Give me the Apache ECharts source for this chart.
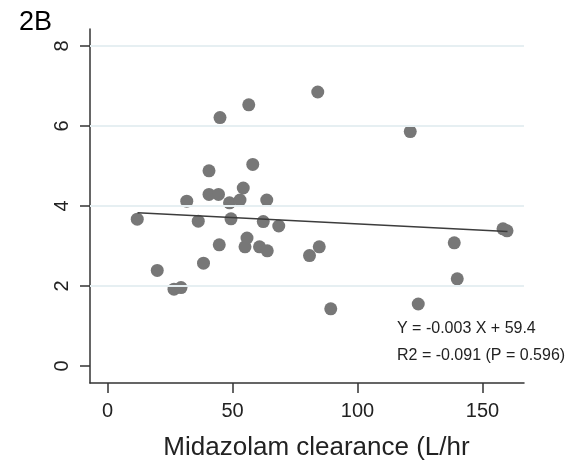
<!DOCTYPE html>
<html>
<head>
<meta charset="utf-8">
<script src="https://cdn.jsdelivr.net/npm/echarts@6/dist/echarts.min.js"></script>
<style>
  html, body { margin: 0; padding: 0; background: #fff; }
  #chart { width: 567px; height: 461px; }
</style>
</head>
<body>
<div id="chart"></div>
<script>
// midazolam clearance (L/hr) vs y value, one dot per subject
var clearance = [11.9, 19.9, 26.6, 29.4, 31.7, 36.3, 38.4, 40.6, 40.6, 44.4, 44.7, 45.0, 48.8, 49.4, 53.0, 54.3, 55.0, 55.8,
  56.5, 58.1, 60.8, 62.3, 63.9, 63.7, 68.5, 80.8, 84.7, 84.1, 89.3, 121.1, 124.3, 138.7, 139.9, 158.2, 159.8];
var yValues = [3.67, 2.39, 1.92, 1.96, 4.12, 3.62, 2.57, 4.88, 4.29, 4.29, 3.03, 6.21, 4.08, 3.68, 4.15, 4.45, 2.98, 3.20,
  6.53, 5.04, 2.98, 3.61, 2.88, 4.15, 3.50, 2.76, 2.98, 6.85, 1.43, 5.86, 1.55, 3.08, 2.18, 3.43, 3.38];

// fitted line end points
var fitX = [12, 160];
var fitY = [3.83, 3.36];

var xTicks = [0, 50, 100, 150];
var yTicks = [0, 2, 4, 6, 8];
var gridValues = [2, 4, 6, 8];

var fitText = ['Y = -0.003 X + 59.4', 'R2 = -0.091 (P = 0.596)'];

var font = 'Liberation Sans, Arial, sans-serif';

var points = [];
for (var i = 0; i < clearance.length; i++) {
  points.push([clearance[i], yValues[i]]);
}
var fitLine = [];
for (var j = 0; j < fitX.length; j++) {
  fitLine.push([fitX[j], fitY[j]]);
}

var myChart = echarts.init(document.getElementById('chart'));
myChart.setOption({
  animation: false,
  backgroundColor: '#fff',
  title: {
    text: '2B',
    left: 14,
    top: 4,
    textStyle: { fontFamily: font, fontSize: 27, fontWeight: 'normal', color: '#000' }
  },
  grid: { left: 90, right: 43, top: 29, bottom: 78, containLabel: false, outerBoundsMode: 'none' },
  xAxis: {
    type: 'value',
    min: -7,
    max: 166.6,
    name: 'Midazolam clearance (L/hr',
    nameLocation: 'middle',
    nameGap: 52,
    nameTextStyle: { fontFamily: font, fontSize: 26, color: '#222', padding: [0, 0, 0, 19] },
    axisLine: { show: true, onZero: false, lineStyle: { color: '#333', width: 1.5 } },
    axisTick: { show: true, length: 10, customValues: xTicks, lineStyle: { color: '#333', width: 1.5 } },
    axisLabel: { customValues: xTicks, margin: 18, fontFamily: font, fontSize: 20, color: '#222' },
    splitLine: { show: false }
  },
  yAxis: {
    type: 'value',
    min: -0.425,
    max: 8.425,
    axisLine: { show: true, onZero: false, lineStyle: { color: '#333', width: 1.5 } },
    axisTick: { show: true, length: 10, customValues: yTicks, lineStyle: { color: '#333', width: 1.5 } },
    axisLabel: { customValues: yTicks, rotate: 90, margin: 18, fontFamily: font, fontSize: 20, color: '#222' },
    splitLine: { show: false }
  },
  series: [
    {
      name: 'grid',
      type: 'line',
      data: [],
      markLine: {
        silent: true,
        symbol: 'none',
        label: { show: false },
        lineStyle: { color: '#e6eff2', width: 2, type: 'solid' },
        data: gridValues.map(function (v) { return { yAxis: v }; })
      },
      z: 0
    },
    {
      name: 'points',
      type: 'scatter',
      symbolSize: 13,
      itemStyle: { color: '#777', opacity: 1 },
      data: points,
      z: 2
    },
    {
      name: 'fit',
      type: 'line',
      symbol: 'none',
      lineStyle: { color: '#3c3c3c', width: 1.5 },
      data: fitLine,
      z: 3
    }
  ],
  graphic: [
    {
      type: 'text',
      left: 397,
      top: 321,
      style: { text: fitText[0], fontFamily: font, fontSize: 16, fill: '#222' }
    },
    {
      type: 'text',
      left: 397,
      top: 348,
      style: { text: fitText[1], fontFamily: font, fontSize: 16, fill: '#222' }
    }
  ]
});
</script>
</body>
</html>
